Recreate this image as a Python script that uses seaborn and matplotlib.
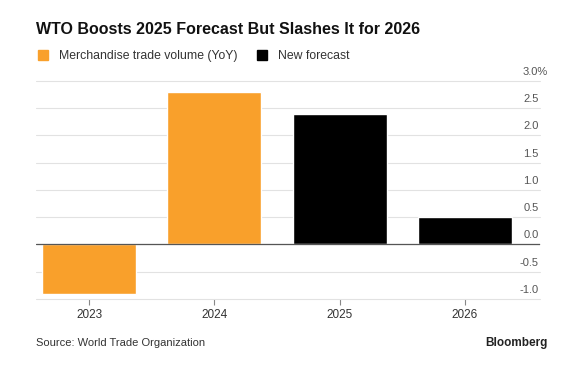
import pandas as pd
import numpy as np
import matplotlib
matplotlib.use('Agg')
import matplotlib.pyplot as plt
import matplotlib.transforms as mtransforms
from matplotlib.lines import Line2D
import seaborn as sns

# Datos
years = ['2023', '2024', '2025', '2026']
trade_volume = [-0.9, 2.8, 2.4, 0.5]
series = ['Merchandise trade volume (YoY)', 'Merchandise trade volume (YoY)',
          'New forecast', 'New forecast']
y_ticks = [-1.0, -0.5, 0.0, 0.5, 1.0, 1.5, 2.0, 2.5, 3.0]
y_tick_labels = ['-1.0', '-0.5', '0.0', '0.5', '1.0', '1.5', '2.0', '2.5', '3.0%']
palette = {'Merchandise trade volume (YoY)': '#F9A02B', 'New forecast': '#000000'}

df = pd.DataFrame({'year': years, 'value': trade_volume, 'series': series})

sns.set_style('white')
plt.rcParams['font.family'] = ['Liberation Sans', 'DejaVu Sans']

fig = plt.figure(figsize=(5.87, 3.84), dpi=100)
ax = fig.add_axes([0.0613, 0.2214, 0.8587, 0.5677])

sns.barplot(data=df, x='year', y='value', hue='series', order=years,
            palette=palette, dodge=False, width=0.75, saturation=1,
            legend=False, ax=ax)

ax.set_xlim(-0.424, 3.6)
ax.set_ylim(-1.0, 3.0)

# Rejilla horizontal
ax.set_yticks(y_ticks)
ax.set_yticklabels(y_tick_labels)
ax.yaxis.grid(True, color='#e2e2e2', linewidth=0.8)
for gl in ax.get_ygridlines():
    gl.set_clip_on(False)
ax.set_axisbelow(True)
ax.axhline(0, color='#555555', linewidth=0.9, zorder=3)

for s in ax.spines.values():
    s.set_visible(False)

ax.yaxis.tick_right()
ax.tick_params(axis='y', length=0, pad=-1, labelsize=8, labelcolor='#555555')
for lab in ax.get_yticklabels():
    lab.set_horizontalalignment('right')
    dx = 9 / 100 if lab.get_text().endswith('%') else 0
    lab.set_transform(lab.get_transform() +
                      mtransforms.ScaledTranslation(dx, 10 / 100, fig.dpi_scale_trans))

ax.tick_params(axis='x', direction='out', length=4, width=0.8, color='#888888', pad=3.5,
               labelsize=8.5, labelcolor='#333333', bottom=True)
for t in ax.xaxis.get_major_ticks():
    t.tick1line.set_clip_on(False)
    t.tick1line.set_zorder(5)
ax.set_xlabel('')
ax.set_ylabel('')

# Titulo, leyenda y fuente
fig.text(36 / 587, 1 - 29 / 384, 'WTO Boosts 2025 Forecast But Slashes It for 2026',
         fontsize=11.5, fontweight='bold', color='#111111', va='center', ha='left')

handles = [Line2D([], [], marker='s', linestyle='', markersize=6.5, color=c)
           for c in palette.values()]
fig.legend(handles, list(palette.keys()), loc='center left',
           bbox_to_anchor=(31 / 587, 1 - 56 / 384), ncol=2, frameon=False,
           fontsize=8.8, labelcolor='#333333', handletextpad=0.3,
           columnspacing=1.0, borderaxespad=0, borderpad=0)

fig.text(36 / 587, 1 - 343 / 384, 'Source: World Trade Organization',
         fontsize=8, color='#333333', va='center', ha='left')
fig.text(548 / 587, 1 - 343 / 384, 'Bloomberg',
         fontsize=8.5, fontweight='bold', color='#222222', va='center', ha='right')

fig.savefig('out.png', dpi=100, facecolor='white')
